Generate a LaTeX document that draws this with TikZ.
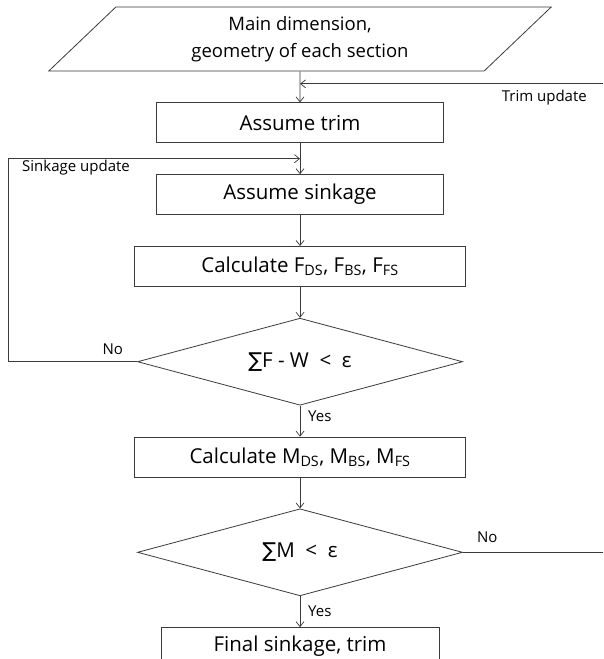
\documentclass[tikz,border=0pt]{standalone}
\usepackage{fontspec}
\setmainfont{Open Sans}
\newfontfamily\symfont{DejaVu Sans}
\usetikzlibrary{positioning, arrows.meta, shapes.geometric, calc}
\definecolor{lineGray}{HTML}{3a3a3a}

\begin{document}
\begin{tikzpicture}[x=1pt, y=-1pt, node distance=31pt, box/.style={draw=lineGray, line width=0.8pt, minimum width=287pt, minimum height=40pt, inner sep=2pt, font=\fontsize{20.5}{24}\selectfont}, iobox/.style={trapezium, trapezium left angle=52, trapezium right angle=128, trapezium stretches=true, draw=lineGray, line width=0.8pt, minimum width=504pt, minimum height=64pt, align=center, font=\fontsize{18.5}{27}\selectfont}, cond/.style={diamond, shape aspect=3.7, draw=lineGray, line width=0.8pt, minimum width=325pt, minimum height=87pt, inner sep=0pt, font=\fontsize{20.5}{24}\selectfont}, lbl/.style={font=\fontsize{15}{17}\selectfont, inner sep=1pt}, arr/.style={-{Straight Barb[length=5pt, width=8pt]}, line width=0.7pt, color=lineGray}, lnk/.style={line width=0.7pt, color=lineGray}]
\useasboundingbox (0,0) rectangle (603,659);
\node[iobox] (inp) at (300,39) {Main dimension,\\geometry of each section};
\node[box, below=of inp] (trim) {Assume trim};
\node[box, below=of trim] (sink) {Assume sinkage};
\node[box, minimum width=331pt, below=of sink] (calcF) {Calculate F\textsubscript{DS}, F\textsubscript{BS}, F\textsubscript{FS}};
\node[cond, below=of calcF] (chkF) {{\symfont ∑}F - W ~<~ ε};
\node[box, minimum width=331pt, below=of chkF] (calcM) {Calculate M\textsubscript{DS}, M\textsubscript{BS}, M\textsubscript{FS}};
\node[cond, below=of calcM] (chkM) {{\symfont ∑}M ~<~ ε};
\node[box, minimum width=278pt, minimum height=38pt, below=of chkM] (final) {Final sinkage, trim};
\coordinate (leftx) at (8,0); \coordinate (rightx) at (603,0);
\coordinate (trimjoin) at ($(inp.south)!0.4!(trim.north)$); \coordinate (sinkjoin) at ($(trim.south)!0.5!(sink.north)$);
\coordinate (trimedge) at (trimjoin -| rightx); \coordinate (sinkcorner) at (sinkjoin -| leftx);
\draw[arr] (inp)--(trim); \draw[arr] (trim)--(sink); \draw[arr] (sink)--(calcF); \draw[arr] (calcF)--(chkF); \draw[arr] (chkF)--(calcM); \draw[arr] (calcM)--(chkM); \draw[arr] (chkM)--(final);
\draw[arr] (trimedge)--(trimjoin);
\draw[arr] (chkF.west) -- (chkF.west -| leftx) |- (sinkjoin);
\draw[lnk] (chkM.east) -- (chkM.east -| rightx);
\node[lbl, below left=5pt and 15pt of trimedge] (trimlbl) {Trim update};
\node[lbl, below right=0pt and 13pt of sinkcorner] (sinklbl) {Sinkage update};
\node[lbl, above left=6pt and 13pt of chkF.west] (noF) {No};
\node[lbl, above right=8pt and 13pt of chkM.east] (noM) {No};
\node[lbl, below right=4pt and 7pt of chkF.south] (yesF) {Yes};
\node[lbl, below right=8pt and 7pt of chkM.south] (yesM) {Yes};
\end{tikzpicture}
\end{document}
